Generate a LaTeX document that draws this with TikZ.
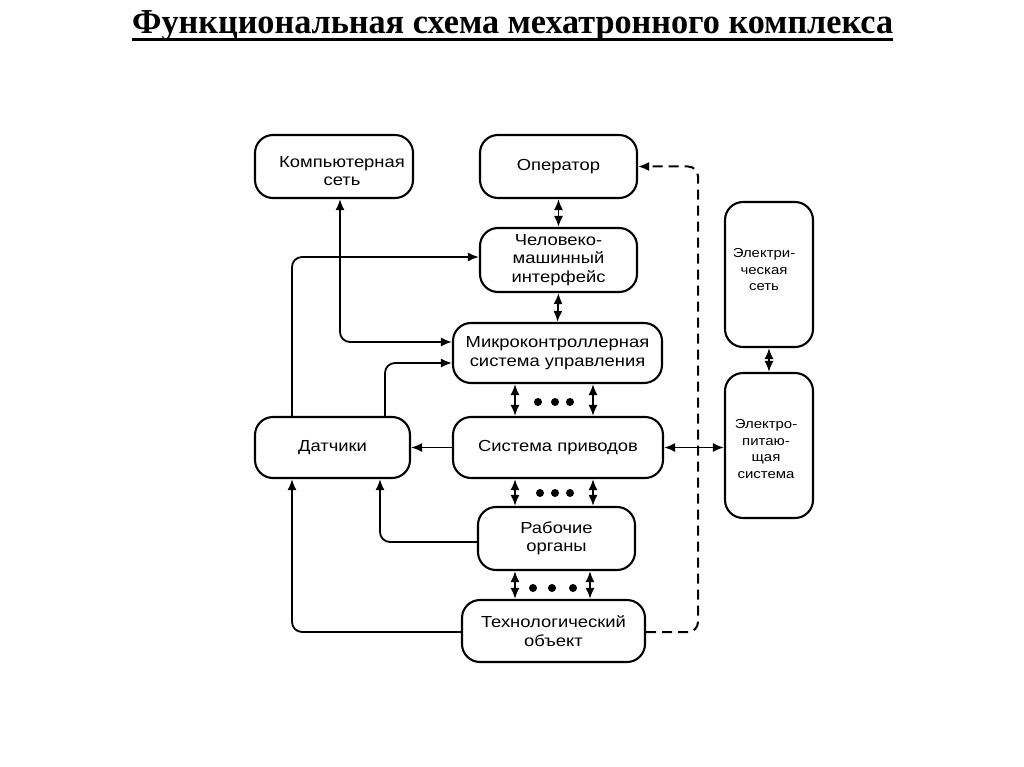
\documentclass[tikz,border=0pt]{standalone}
\usepackage{fontspec}
\usepackage{graphicx}
\usetikzlibrary{arrows.meta}
\newfontfamily\labfont[FakeStretch=1.15]{Liberation Sans}
\newfontfamily\titlefont{Liberation Serif}
\begin{document}
\begin{tikzpicture}[x=1pt,y=-1pt,
  box/.style={draw,line width=2.1pt,rounded corners=18pt,inner sep=0pt,align=center,
    font=\labfont\fontsize{16}{18.5}\selectfont},
  sbox/.style={box,font=\labfont\fontsize{13}{16}\selectfont},
  txt/.style={inner sep=0pt,align=center,font=\labfont\fontsize{16}{18.5}\selectfont},
  stxt/.style={inner sep=0pt,align=center,font=\labfont\fontsize{13}{16.5}\selectfont},
  tip/.tip={Latex[length=11pt,width=9pt]},
  arr/.style={line width=1.8pt,-tip},
  dbl/.style={line width=1.8pt,tip-tip},
  link/.style={line width=1.8pt,rounded corners=10pt},
  dotmark/.style={circle,fill,inner sep=0pt,minimum size=8pt}]
\fill[white] (0,0) rectangle (1024,767);
\useasboundingbox (0,0) rectangle (1024,767);

% title
\node[anchor=base west,inner sep=0pt] (title) at (132,34)
  {\resizebox{761pt}{\height}{\titlefont\bfseries\fontsize{35}{40}\selectfont Функциональная схема мехатронного комплекса}};
\draw[line width=3pt] ([yshift=-5.5pt]title.base west) -- ([yshift=-5.5pt]title.base east);

% boxes
\node[box,minimum width=158pt,minimum height=63pt] (comp) at (334,166.5) {};
\node[txt] (compt) at (342,171) {Компьютерная\\сеть};
\node[box,minimum width=157pt,minimum height=63pt] (oper) at (558.5,166.5) {Оператор};
\node[box,minimum width=157pt,minimum height=64pt] (hmi) at (558.5,260) {Человеко-\\машинный\\интерфейс};
\node[box,minimum width=209pt,minimum height=60pt] (mcu) at (557.5,353) {Микроконтроллерная\\система управления};
\node[box,minimum width=155pt,minimum height=61pt] (dat) at (332.5,447.5) {Датчики};
\node[box,minimum width=210pt,minimum height=61pt] (drv) at (558,447.5) {Система приводов};
\node[box,minimum width=157pt,minimum height=63pt] (ro) at (556.5,538.5) {Рабочие\\органы};
\node[box,minimum width=183pt,minimum height=62pt] (to) at (553.5,631) {Технологический\\объект};
\node[sbox,minimum width=88pt,minimum height=145pt] (esn) at (769,274.5) {};
\node[stxt] (esnt) at (764,270) {Электри-\\ческая\\сеть};
\node[sbox,minimum width=88pt,minimum height=145pt] (eps) at (769,445.5) {};
\node[stxt] (epst) at (766,449) {Электро-\\питаю-\\щая\\система};

% helper coordinates
\coordinate (xL) at (515,0);
\coordinate (xR) at (593,0);
\coordinate (xR3) at (590,0);
\coordinate (xc) at (340,0);
\coordinate (xs1) at (292,0);
\coordinate (xs2) at (385,0);
\coordinate (xs3) at (380,0);
\coordinate (xd) at (698,0);
\coordinate (yc) at (0,342);
\coordinate (yh) at (0,257);
\coordinate (ym) at (0,363);
\coordinate (yr) at (0,542);
\coordinate (yt) at (0,632);

% vertical links
\draw[dbl] (oper.south) -- (hmi.north);
\draw[dbl] (hmi.south) -- (mcu.north);
\draw[dbl] (mcu.south -| xL) -- (drv.north -| xL);
\draw[dbl] (mcu.south -| xR) -- (drv.north -| xR);
\draw[dbl] (drv.south -| xL) -- (ro.north -| xL);
\draw[dbl] (drv.south -| xR) -- (ro.north -| xR);
\draw[dbl] (ro.south -| xL) -- (to.north -| xL);
\draw[dbl] (ro.south -| xR3) -- (to.north -| xR3);
\draw[dbl] (esn.south) -- (eps.north);

% dots
\foreach \x in {538,555,570} \node[dotmark] (da\x) at (\x,402) {};
\foreach \x in {540,555,570} \node[dotmark] (db\x) at (\x,493) {};
\foreach \x in {533,552,573} \node[dotmark] (dc\x) at (\x,588) {};

% computer network <-> microcontroller
\draw[link,tip-tip] (comp.south -| xc) -- (xc |- yc) -- (mcu.west |- yc);
% sensors -> HMI, sensors -> MCU
\draw[link,-tip] (dat.north -| xs1) -- (xs1 |- yh) -- (hmi.west |- yh);
\draw[link,-tip] (dat.north -| xs2) -- (xs2 |- ym) -- (mcu.west |- ym);
% drives -> sensors
\draw[arr] (drv.west) -- (dat.east);
% working organs -> sensors, object -> sensors
\draw[link,-tip] (ro.west |- yr) -- (xs3 |- yr) -- (dat.south -| xs3);
\draw[link,-tip] (to.west |- yt) -- (xs1 |- yt) -- (dat.south -| xs1);
% drives <-> power system
\draw[dbl] (drv.east) -- (drv.east -| eps.west);
% object -> operator (dashed)
\draw[link,dashed,dash pattern=on 10pt off 6pt,line width=2pt,-tip] (to.east |- yt) -- (xd |- yt) -- (xd |- oper.east) -- (oper.east);
\end{tikzpicture}
\end{document}
